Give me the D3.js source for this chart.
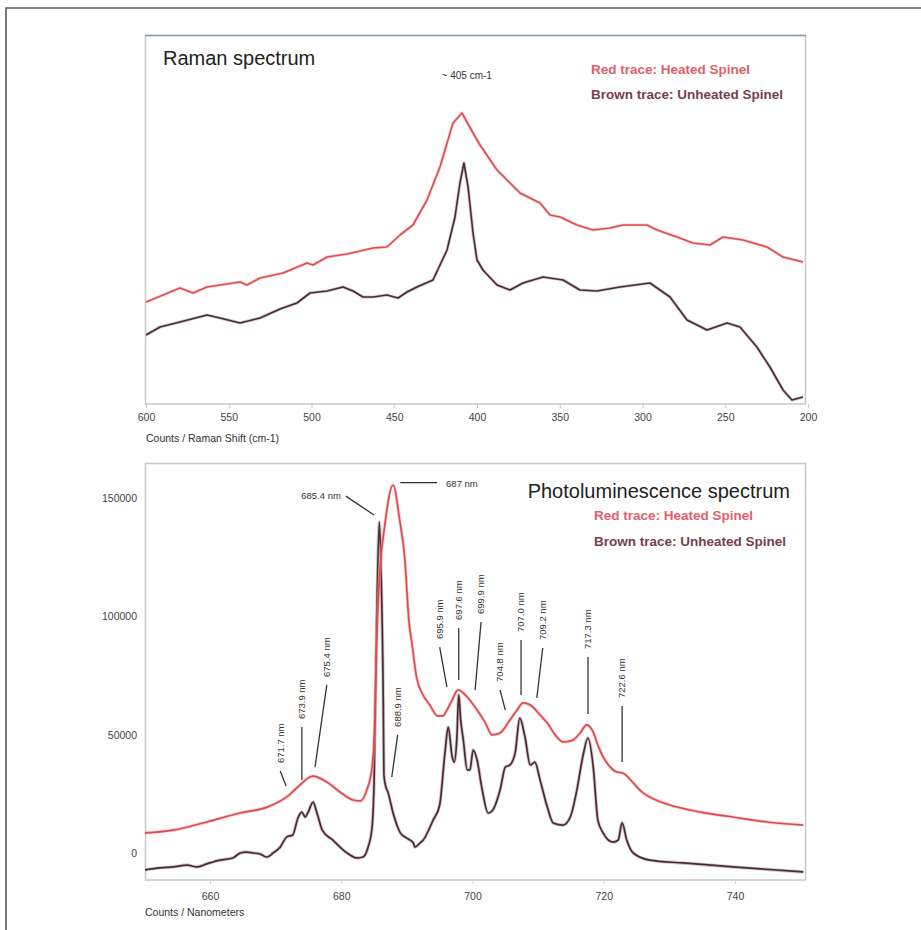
<!DOCTYPE html>
<html>
<head>
<meta charset="utf-8">
<script src="https://cdn.jsdelivr.net/npm/d3@7"></script>
<style>
  body { margin: 0; background: #fff; }
  text { font-family: "Liberation Sans", Arial, sans-serif; }
</style>
</head>
<body>
<svg width="921" height="930"></svg>
<script>
// ---- Raman spectrum (Raman shift cm-1, relative counts) ----
var ramanTicks = [600, 550, 500, 450, 400, 350, 300, 250, 200];

var ramanHeated = [
  [600,102],[579.5,116],[571.6,111],[563.1,117],[543.2,122],[539.0,119],[531.1,126],
  [517.2,131],[502.7,141],[499.1,139],[490.6,147],[478.5,150],[462.8,156],[454.4,157],
  [446.5,169],[438.7,179],[430.2,204],[422.4,237],[414.5,281],[409.1,291],[402.4,271],
  [398.2,259],[387.9,234],[374.0,211],[361.9,201],[355.9,189],[349.8,187],[339.6,179],
  [329.9,174],[319.6,176],[311.8,179],[297.3,179],[291.2,174],[279.2,167],[269.5,161],
  [259.2,159],[251.4,167],[239.3,164],[224.8,157],[215.1,147],[203.0,142]
];

var ramanUnheated = [
  [600,69],[591.5,77],[579.5,82],[563.1,89],[555.3,86],[543.2,81],[531.1,86],[519.0,95],
  [508.8,101],[500.9,111],[490.6,113],[481.0,117],[474.9,113],[468.9,107],[462.8,107],
  [454.4,109],[447.7,106],[442.3,112],[436.3,117],[426.6,124],[418.1,154],[413.3,187],
  [410.3,221],[407.9,241],[405.4,217],[402.4,171],[400.0,144],[396.4,134],[387.9,119],
  [380.1,114],[372.2,121],[360.1,127],[348.0,124],[337.8,114],[327.5,113],[313.6,117],
  [295.5,121],[283.4,107],[273.1,84],[261.0,74],[248.9,81],[241.1,77],[230.9,57],
  [223.0,37],[215.1,14],[209.7,4],[203.0,7]
];

// ---- Photoluminescence spectrum (nm, counts) ----
var plXTicks = [660, 680, 700, 720, 740];
var plYTicks = [0, 50000, 100000, 150000];

var plHeated = [
  [650.0,8450],[654.4,9700],[659.5,13100],[664.6,16900],[668.7,19400],[671.7,23700],
  [673.7,28700],[675.2,32100],[675.7,32500],[677.8,30000],[679.8,25800],[681.8,22400],
  [682.9,22000],[683.9,26600],[684.7,36300],[685.1,54900],[685.4,90000],[685.9,119600],
  [686.6,137700],[687.9,155500],[688.9,140700],[689.7,123800],[690.3,98400],[690.8,87900],
  [691.5,73900],[692.3,67600],[693.5,62500],[694.7,57900],[695.5,57900],[696.1,60400],
  [696.9,64600],[697.8,68900],[698.6,67600],[699.2,65900],[700.7,60400],[701.9,55300],
  [703.0,49900],[704.2,50700],[705.7,56200],[706.8,60400],[707.7,63400],[709.2,61700],
  [710.3,58300],[711.4,54900],[712.6,49900],[713.8,46900],[715.3,47700],[716.4,50700],
  [717.4,54100],[718.4,51100],[719.1,45600],[719.9,40600],[721.0,36300],[722.0,34200],
  [722.9,33800],[724.5,29600],[725.8,25800],[727.0,23700],[729.6,20700],[734.7,17300],
  [739.7,15200],[744.9,13100],[750.4,11800]
];

var plUnheated = [
  [650.0,-7200],[652.4,-6300],[654.4,-5900],[656.5,-5100],[658.0,-5900],[659.5,-4600],
  [661.5,-3000],[663.5,-2100],[664.6,0],[665.6,400],[666.6,0],[667.6,-400],[668.7,-1700],
  [669.6,0],[670.7,2500],[671.7,6800],[672.6,7600],[673.4,14800],[674.0,17300],
  [674.5,15200],[674.9,16900],[675.7,21500],[676.3,16900],[677.1,9700],[678.7,5500],
  [680.9,0],[682.4,-2100],[683.3,-1700],[684.1,2500],[684.7,11000],[685.0,29600],
  [685.4,98400],[685.8,139800],[686.1,115300],[686.4,64600],[686.5,33000],[686.8,27900],
  [687.1,25800],[687.9,16900],[689.0,8500],[690.0,6300],[691.0,4200],[691.2,2500],
  [692.0,4200],[692.5,5500],[694.0,13900],[695.0,20300],[695.8,42300],[696.3,53200],
  [696.9,40600],[697.2,38400],[697.6,47700],[697.9,66800],[698.2,56200],[698.6,47700],
  [699.2,35100],[699.6,35100],[700.1,43500],[700.7,39300],[701.4,27900],[702.4,16900],
  [703.1,18200],[704.2,26600],[705.0,36300],[705.7,37200],[706.5,42300],[707.2,57000],
  [708.0,49000],[708.8,37200],[709.5,38400],[710.3,30800],[711.4,19400],[712.3,12700],
  [713.8,11800],[714.9,15200],[715.9,26600],[716.8,40600],[717.6,48600],[718.4,36300],
  [719.1,13900],[719.9,8500],[721.4,4600],[722.2,5500],[722.8,12700],[723.5,5500],
  [724.5,0],[727.0,-3000],[732.1,-4200],[739.7,-5900],[750.4,-8000]
];

// peak labels with leader lines (top and end of each line, nm / counts)
var plPeaks = ["671.7 nm","673.9 nm","675.4 nm","688.9 nm","695.9 nm","697.6 nm",
               "699.9 nm","704.8 nm","707.0 nm","709.2 nm","717.3 nm","722.6 nm"];
var plLeadTop = [[670.7,34600],[674.0,53200],[677.8,71000],[688.6,49900],[695.0,87000],
                 [697.9,95100],[701.3,97600],[704.2,68900],[707.4,90000],[710.7,86600],
                 [717.6,82800],[722.8,62100]];
var plLeadEnd = [[671.6,28300],[674.0,30800],[676.0,36300],[687.7,32100],[696.1,70100],
                 [697.9,73100],[700.4,68900],[705.0,60400],[707.4,66800],[709.8,65500],
                 [717.6,58700],[722.8,38400]];

var redCol = "#df4a4f", brownCol = "#4b2a34";
var redText = "#e0606b", brownText = "#7a3c50";

var svg = d3.select("svg");

svg.append("rect").attr("width", 921).attr("height", 930).attr("fill", "#fff");

// outer frame (left and top edge)
svg.append("path")
    .attr("d", "M6,930V8H921")
    .attr("fill", "none")
    .attr("stroke", "#5a5a5a")
    .attr("stroke-width", 1.6);

// ================= Raman panel =================
var xR = d3.scaleLinear().domain([600, 200]).range([146, 808]),
    yR = d3.scaleLinear().domain([0, 369]).range([404, 35]);

var defs = svg.append("defs");
defs.append("clipPath").attr("id", "clipR")
  .append("rect").attr("x", 146).attr("y", 35).attr("width", 660).attr("height", 369);
defs.append("clipPath").attr("id", "clipP")
  .append("rect").attr("x", 145).attr("y", 463).attr("width", 661).attr("height", 417);

svg.append("rect")
    .attr("x", 145.5).attr("y", 35.5).attr("width", 660).attr("height", 368.5)
    .attr("fill", "#fff").attr("stroke", "#c6c8ca").attr("stroke-width", 1.5);
svg.append("line")
    .attr("x1", 145).attr("x2", 806).attr("y1", 35.5).attr("y2", 35.5)
    .attr("stroke", "#8d9db0").attr("stroke-width", 1.5);

var gxR = svg.append("g")
    .attr("transform", "translate(0,404)")
    .call(d3.axisBottom(xR).tickValues(ramanTicks).tickSize(4).tickPadding(6));
gxR.select(".domain").remove();
gxR.selectAll("line").attr("stroke", "#c8c8c8");
gxR.selectAll("text").attr("fill", "#444").style("font-size", "10.5px");

svg.append("text")
    .attr("x", 146).attr("y", 442)
    .attr("fill", "#333")
    .style("font-size", "10.5px")
    .text("Counts / Raman Shift (cm-1)");

var lineR = d3.line()
    .x(function(d) { return xR(d[0]); })
    .y(function(d) { return yR(d[1]); });

var gR = svg.append("g").attr("clip-path", "url(#clipR)");
[[ramanHeated, redCol, "#f2a8a8"], [ramanUnheated, brownCol, "#a58e96"]].forEach(function(s) {
    gR.append("path").datum(s[0])
        .attr("fill", "none").attr("stroke", s[2]).attr("stroke-width", 3.2)
        .attr("stroke-opacity", 0.5).attr("stroke-linejoin", "round")
        .attr("d", lineR);
    gR.append("path").datum(s[0])
        .attr("fill", "none").attr("stroke", s[1]).attr("stroke-width", 1.6)
        .attr("stroke-linejoin", "round")
        .attr("d", lineR);
});

svg.append("text")
    .attr("x", 163).attr("y", 65)
    .attr("fill", "#222")
    .style("font-size", "20px")
    .text("Raman spectrum");

svg.append("text")
    .attr("x", xR(405) - 2).attr("y", 79)
    .attr("text-anchor", "middle")
    .attr("fill", "#333")
    .style("font-size", "10px")
    .text("~ 405 cm-1");

svg.append("text")
    .attr("x", 591).attr("y", 74)
    .attr("fill", redText).style("font-size", "13.5px").style("font-weight", "bold")
    .text("Red trace: Heated Spinel");
svg.append("text")
    .attr("x", 591).attr("y", 99)
    .attr("fill", brownText).style("font-size", "13.5px").style("font-weight", "bold")
    .text("Brown trace: Unheated Spinel");

// ================= Photoluminescence panel =================
var xP = d3.scaleLinear().domain([660, 740]).range([210, 735]),
    yP = d3.scaleLinear().domain([0, 150000]).range([853, 498]);

svg.append("rect")
    .attr("x", 145.5).attr("y", 463.5).attr("width", 660).attr("height", 416.5)
    .attr("fill", "#fff").attr("stroke", "#c6c8ca").attr("stroke-width", 1.5);

var gxP = svg.append("g")
    .attr("transform", "translate(0,880)")
    .call(d3.axisBottom(xP).tickValues(plXTicks).tickSize(4).tickPadding(9));
gxP.select(".domain").remove();
gxP.selectAll("line").attr("stroke", "#d0d0d0");
gxP.selectAll("text").attr("fill", "#444").style("font-size", "10.5px");

var gyP = svg.append("g")
    .attr("transform", "translate(145,0)")
    .call(d3.axisLeft(yP).tickValues(plYTicks).tickSize(0).tickPadding(8).tickFormat(d3.format("d")));
gyP.select(".domain").remove();
gyP.selectAll("text").attr("fill", "#444").style("font-size", "10.5px");

svg.append("text")
    .attr("x", 145).attr("y", 916)
    .attr("fill", "#333")
    .style("font-size", "10.5px")
    .text("Counts / Nanometers");

var lineP = d3.line()
    .curve(d3.curveMonotoneX)
    .x(function(d) { return xP(d[0]); })
    .y(function(d) { return yP(d[1]); });

var gP = svg.append("g").attr("clip-path", "url(#clipP)");
[[plUnheated, brownCol, "#a58e96"], [plHeated, redCol, "#f2a8a8"]].forEach(function(s) {
    gP.append("path").datum(s[0])
        .attr("fill", "none").attr("stroke", s[2]).attr("stroke-width", 3.4)
        .attr("stroke-opacity", 0.5).attr("stroke-linejoin", "round")
        .attr("d", lineP);
    gP.append("path").datum(s[0])
        .attr("fill", "none").attr("stroke", s[1]).attr("stroke-width", 1.7)
        .attr("stroke-linejoin", "round")
        .attr("d", lineP);
});

// leader lines + rotated peak labels
var ann = svg.append("g");
plPeaks.forEach(function(label, i) {
    var t = plLeadTop[i], e = plLeadEnd[i];
    ann.append("line")
        .attr("x1", xP(t[0])).attr("y1", yP(t[1]))
        .attr("x2", xP(e[0])).attr("y2", yP(e[1]))
        .attr("stroke", "#333").attr("stroke-width", 1.3);
    var tx = xP(t[0]), ty = yP(t[1]) - 8;
    ann.append("text")
        .attr("transform", "translate(" + tx + "," + ty + ") rotate(-90)")
        .attr("dy", "0.35em")
        .attr("fill", "#333")
        .style("font-size", "9.5px")
        .text(label);
});

// 685.4 nm (angled leader) and 687 nm (horizontal leader)
ann.append("line")
    .attr("x1", xP(680.7)).attr("y1", yP(150800))
    .attr("x2", xP(685.0)).attr("y2", yP(142800))
    .attr("stroke", "#333").attr("stroke-width", 1.3);
ann.append("text")
    .attr("x", xP(680.7) - 5).attr("y", yP(150800) + 3)
    .attr("text-anchor", "end")
    .attr("fill", "#333").style("font-size", "9.5px")
    .text("685.4 nm");
ann.append("line")
    .attr("x1", xP(689.0)).attr("y1", yP(156500))
    .attr("x2", xP(694.6)).attr("y2", yP(156500))
    .attr("stroke", "#333").attr("stroke-width", 1.3);
ann.append("text")
    .attr("x", xP(694.6) + 9).attr("y", yP(156500) + 4)
    .attr("fill", "#333").style("font-size", "9.5px")
    .text("687 nm");

svg.append("text")
    .attr("x", 790).attr("y", 498)
    .attr("text-anchor", "end")
    .attr("fill", "#222")
    .style("font-size", "20px")
    .text("Photoluminescence spectrum");

svg.append("text")
    .attr("x", 594).attr("y", 520)
    .attr("fill", redText).style("font-size", "13.5px").style("font-weight", "bold")
    .text("Red trace: Heated Spinel");
svg.append("text")
    .attr("x", 594).attr("y", 546)
    .attr("fill", brownText).style("font-size", "13.5px").style("font-weight", "bold")
    .text("Brown trace: Unheated Spinel");
</script>
</body>
</html>
